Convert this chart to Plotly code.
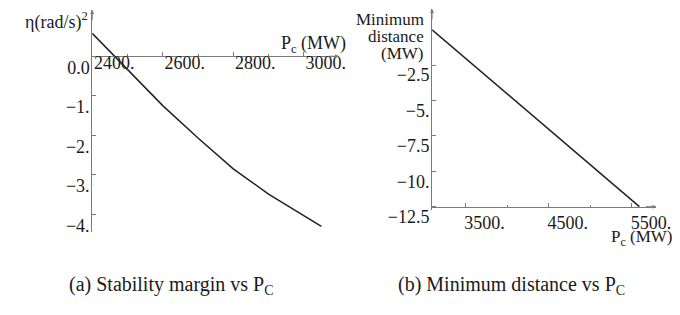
import plotly.graph_objects as go

# ---- data ----
pc_a = [2400, 2600, 2700, 2800, 2900, 3050]
eta_a = [0.58, -1.25, -2.07, -2.85, -3.49, -4.31]

pc_b = [3100, 5590]
dist_b = [0.0, -12.5]

xa_ticks = [2400, 2600, 2800, 3000]
xa_text = ["2400.", "2600.", "2800.", "3000."]
xa_minor = [2500, 2700, 2900]
ya_ticks = [0, -1, -2, -3, -4]
ya_text = ["0.0", "\u22121.", "\u22122.", "\u22123.", "\u22124."]

xb_ticks = [3500, 4500, 5500]
xb_text = ["3500.", "4500.", "5500."]
xb_minor = [4000, 5000]
yb_ticks = [-2.5, -5, -7.5, -10, -12.5]
yb_text = ["\u22122.5", "\u22125.", "\u22127.5", "\u221210.", "\u221212.5"]

W, H = 680, 315
FONT = "Liberation Serif"
TXT = "#1a1a1a"
AX = "#7a7a7a"

def px(x):
    return x / W

def py(y):
    return 1 - y / H

fig = go.Figure()
fig.add_trace(go.Scatter(x=pc_a, y=eta_a, mode="lines", xaxis="x", yaxis="y",
                         line=dict(color="#222", width=1.5), showlegend=False))
fig.add_trace(go.Scatter(x=pc_b, y=dist_b, mode="lines", xaxis="x2", yaxis="y2",
                         line=dict(color="#222", width=1.5), showlegend=False))

tickfont = dict(family=FONT, size=18, color=TXT)
common = dict(showgrid=False, zeroline=False, showline=True, linecolor=AX, linewidth=1,
              ticks="inside", tickcolor=AX, ticklen=4, tickfont=tickfont)

# left plot scales: 2400 at px 86, 0.36 px/MW ; eta 0 at px 51, 41.75 px/unit
fig.update_layout(
    xaxis=dict(domain=[px(86), px(338)], range=[2400, 2400 + (338 - 86) / 0.36],
               anchor="free", position=py(51), tickmode="array", tickvals=xa_ticks,
               ticktext=xa_text, ticklabelshift=22, ticklabelstandoff=-10,
               minor=dict(tickmode="array", tickvals=xa_minor, ticks="inside", ticklen=2, tickcolor=AX),
               **common),
    yaxis=dict(domain=[py(237), py(2)], range=[-(237 - 51) / 41.75, (51 - 2) / 41.75],
               anchor="x", tickmode="array", tickvals=ya_ticks, ticktext=ya_text,
               ticklabelshift=11, ticklabelstandoff=-2, **common),
    xaxis2=dict(domain=[px(433), px(662)], range=[3100, 3100 + (662 - 433) / 0.085],
                anchor="free", position=py(210), tickmode="array", tickvals=xb_ticks,
                ticktext=xb_text, ticklabelshift=19, ticklabelstandoff=0,
                minor=dict(tickmode="array", tickvals=xb_minor, ticks="inside", ticklen=2, tickcolor=AX),
                **common),
    yaxis2=dict(domain=[py(213), py(1)], range=[-(213 - 23) / 14.96, (23 - 1) / 14.96],
                anchor="x2", tickmode="array", tickvals=yb_ticks, ticktext=yb_text,
                ticklabelshift=10, ticklabelstandoff=-2, **common),
    width=W, height=H, margin=dict(l=0, r=0, t=0, b=0),
    paper_bgcolor="white", plot_bgcolor="white",
    font=dict(family=FONT, color=TXT, size=18),
)

ann = []
# axis arrows
for (x, y, ax, ay) in [(338, 51, -12, 0), (86, 2, 0, 12), (662, 210, -12, 0), (433, 1, 0, 12)]:
    ann.append(dict(x=px(x), y=py(y), xref="paper", yref="paper", ax=ax, ay=ay,
                    axref="pixel", ayref="pixel", text="", showarrow=True,
                    arrowhead=2, arrowsize=0.8, arrowwidth=1, arrowcolor=AX))

def label(text, x, y, xanchor="left", size=18):
    ann.append(dict(x=px(x), y=py(y), xref="paper", yref="paper", text=text,
                    showarrow=False, xanchor=xanchor, yanchor="middle",
                    font=dict(family=FONT, size=size, color=TXT)))

label("\u03b7(rad/s)<sup>2</sup>", 84, 14, xanchor="right")
label("P<sub>c</sub> (MW)", 277, 39)
label("Minimum", 427, 12, xanchor="right", size=17)
label("distance", 427, 30, xanchor="right", size=17)
label("(MW)", 426, 48, xanchor="right", size=17)
label("P<sub>c</sub> (MW)", 614, 243, size=17)
label("(a) Stability margin vs P<sub>C</sub>", 167, 293, xanchor="center", size=20)
label("(b) Minimum distance vs P<sub>C</sub>", 514, 293, xanchor="center", size=20)

fig.update_layout(annotations=ann)
fig.write_html("out.html")
